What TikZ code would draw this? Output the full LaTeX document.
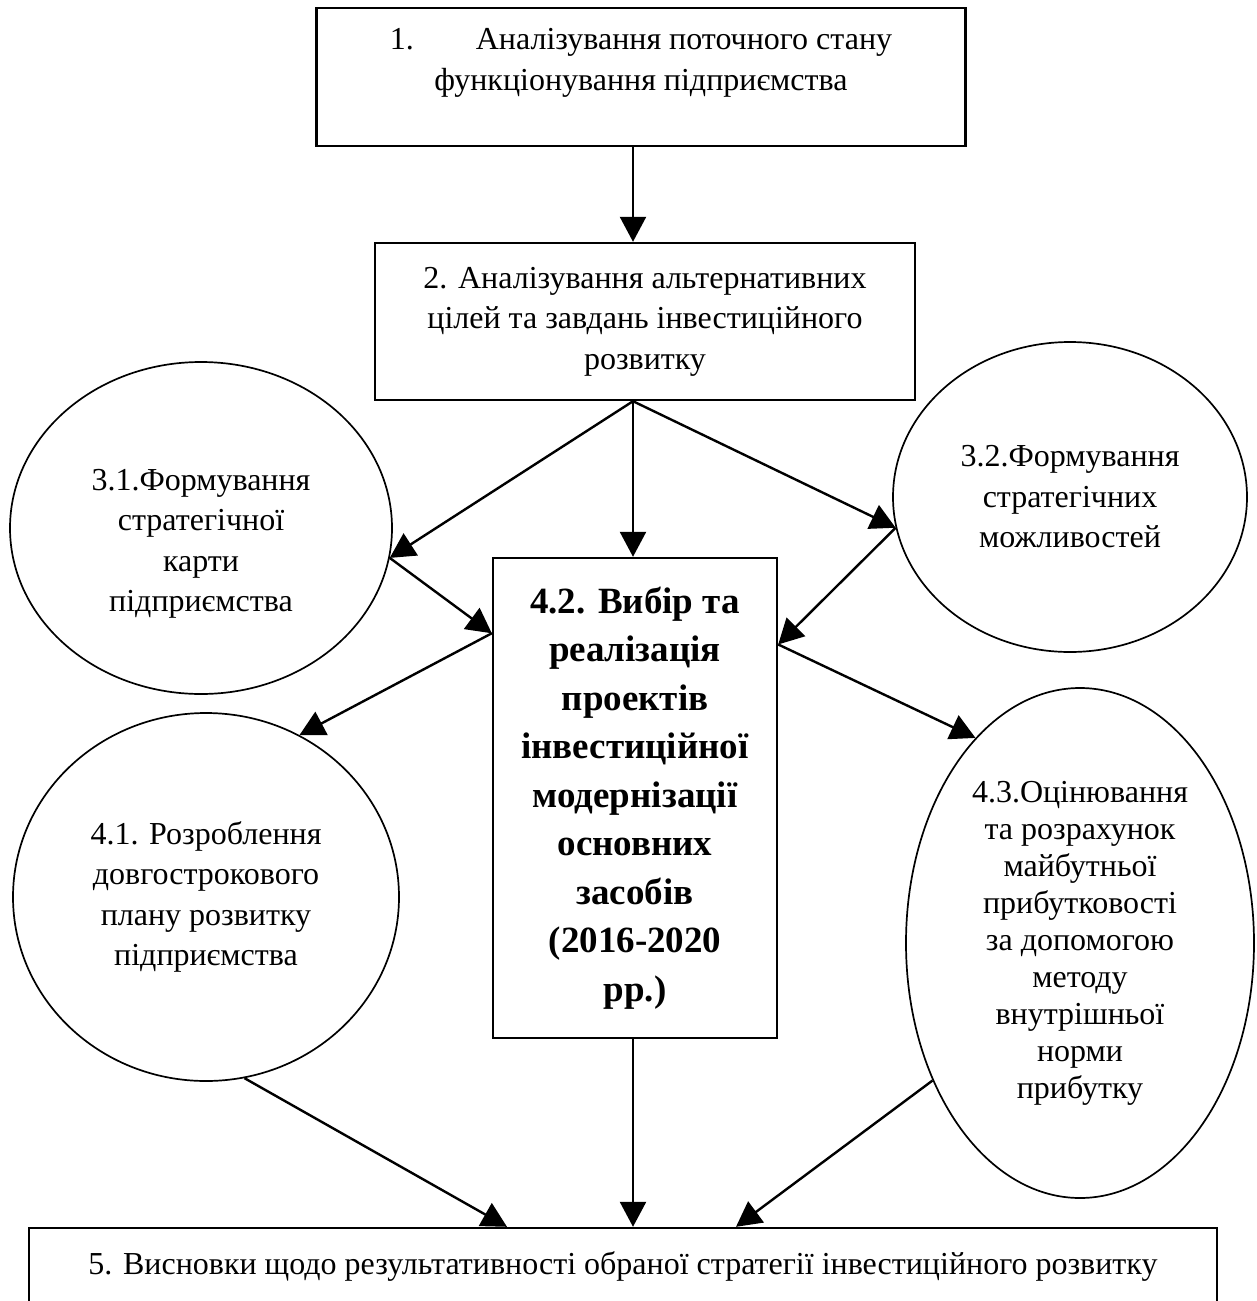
\documentclass[tikz,border=0pt]{standalone}
\usepackage{fontspec}
\setmainfont{Liberation Serif}
\usetikzlibrary{shapes.geometric, arrows.meta, calc}

\begin{document}
\begin{tikzpicture}[
        x=1pt, y=-1pt,
        >={Triangle[width=26pt,length=25pt]},
        txt/.style={align=center, font=\fontsize{32}{40.5}\selectfont},
        box/.style={draw, rectangle, line width=2.4pt, inner sep=0pt, txt},
        oval/.style={draw, ellipse, line width=1.7pt, inner sep=0pt, txt},
        arrow/.style={->, line width=2.4pt}
    ]
    \useasboundingbox (0,0) rectangle (1257,1301);

    % Nodes
    \node[box, minimum width=649pt, minimum height=138pt] (b1) at (641,77) {};
    \node[txt] (b1text) at ([yshift=14pt]b1.center) {1.\hspace{62pt}Аналізування поточного стану\\функціонування підприємства};
    \node[box, minimum width=540pt, minimum height=157pt] (b2) at (645,321.5) {2. Аналізування альтернативних\\цілей та завдань інвестиційного\\розвитку};
    \node[oval, minimum width=382pt, minimum height=332pt] (s31) at (201,528) {};
    \node[txt] (s31text) at ([yshift=-16pt]s31.center) {3.1.Формування\\стратегічної\\карти\\підприємства};
    \node[oval, minimum width=354pt, minimum height=310pt] (s32) at (1070,497) {3.2.Формування\\стратегічних\\можливостей};
    \node[box, minimum width=284pt, minimum height=480pt, font=\fontsize{37}{48.5}\selectfont\bfseries] (b42) at (635,798) {4.2. Вибір та\\реалізація\\проектів\\інвестиційної\\модернізації\\основних\\засобів\\(2016-2020\\рр.)};
    \node[oval, minimum width=386pt, minimum height=368pt] (s41) at (206,897) {4.1. Розроблення\\довгострокового\\плану розвитку\\підприємства};
    \node[oval, minimum width=348pt, minimum height=510pt, font=\fontsize{32}{37}\selectfont] (s43) at (1080,943) {4.3.Оцінювання\\та розрахунок\\майбутньої\\прибутковості\\за допомогою\\методу\\внутрішньої\\норми\\прибутку};
    \node[box, minimum width=1188pt, minimum height=76pt] (b5) at (623,1266) {5. Висновки щодо результативності обраної стратегії інвестиційного розвитку};
    \coordinate (ax) at (633,0);

    % Arrows
    \draw[arrow] (b1.south -| ax) -- (b2.north -| ax);
    \draw[arrow] (b2.south -| ax) -- (s31.-9);
    \draw[arrow] (b2.south -| ax) -- (b42.north -| ax);
    \draw[arrow] (b2.south -| ax) -- (s32.190);
    \draw[arrow] (s31.-9) -- (b42.131);
    \draw[arrow] (s32.190) -- (b42.47);
    \draw[arrow] (b42.131) -- (s41.60);
    \draw[arrow] (b42.47) -- (s43.117);
    \draw[arrow] (s41.-78) -- ($(b5.north)+(-116,0)$);
    \draw[arrow] (b42.south -| ax) -- (b5.north -| ax);
    \draw[arrow] (s43.223) -- ($(b5.north)+(113,0)$);

\end{tikzpicture}
\end{document}
